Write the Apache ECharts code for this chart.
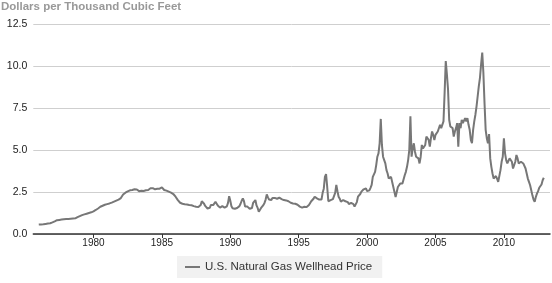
<!DOCTYPE html>
<html>
<head>
<meta charset="utf-8">
<script src="https://cdn.jsdelivr.net/npm/echarts@6/dist/echarts.min.js"></script>
<style>
html,body{margin:0;padding:0;background:#fff;}
#chart{width:552px;height:283px;}
</style>
</head>
<body>
<div id="chart"></div>
<script>
// Monthly U.S. natural gas wellhead price (Jan..Dec), dollars per thousand cubic feet
const price1970s = {
  1976: [0.56,0.56,0.57,0.57,0.58,0.59,0.60,0.61,0.62,0.63,0.64,0.66],
  1977: [0.69,0.72,0.75,0.79,0.82,0.83,0.84,0.85,0.86,0.87,0.88,0.89],
  1978: [0.89,0.90,0.90,0.91,0.91,0.92,0.92,0.93,0.93,0.96,1.00,1.03],
  1979: [1.06,1.09,1.12,1.14,1.17,1.19,1.21,1.23,1.25,1.27,1.29,1.32]
};
const price1980s = {
  1980: [1.35,1.39,1.43,1.47,1.52,1.57,1.62,1.65,1.68,1.71,1.74,1.76],
  1981: [1.78,1.80,1.82,1.84,1.87,1.90,1.93,1.96,1.99,2.02,2.05,2.08],
  1982: [2.14,2.25,2.35,2.42,2.46,2.50,2.54,2.58,2.60,2.62,2.62,2.64],
  1983: [2.66,2.68,2.65,2.58,2.55,2.52,2.58,2.62,2.56,2.64,2.60,2.66],
  1984: [2.62,2.68,2.72,2.70,2.73,2.68,2.66,2.64,2.69,2.65,2.70,2.72],
  1985: [2.78,2.70,2.62,2.60,2.58,2.54,2.52,2.48,2.46,2.42,2.38,2.30],
  1986: [2.22,2.12,2.02,1.94,1.86,1.82,1.80,1.79,1.77,1.76,1.76,1.75],
  1987: [1.73,1.72,1.71,1.70,1.66,1.64,1.62,1.59,1.60,1.63,1.72,1.95],
  1988: [2.02,1.80,1.67,1.58,1.52,1.49,1.56,1.73,1.68,1.72,1.78,1.92],
  1989: [1.95,1.70,1.62,1.57,1.62,1.66,1.60,1.57,1.58,1.65,1.85,2.25]
};
const price1990s = {
  1990: [1.98,1.65,1.53,1.52,1.50,1.50,1.55,1.60,1.66,1.80,1.98,2.12],
  1991: [1.95,1.63,1.60,1.63,1.57,1.50,1.39,1.55,1.85,1.95,2.02,1.70],
  1992: [1.55,1.33,1.42,1.55,1.63,1.72,1.85,2.05,2.36,2.18,2.05,2.00],
  1993: [2.02,2.15,2.22,2.15,2.12,2.10,2.14,2.16,2.12,2.08,2.05,2.02],
  1994: [2.04,2.00,2.00,1.95,1.90,1.86,1.83,1.82,1.80,1.80,1.76,1.74],
  1995: [1.70,1.63,1.58,1.57,1.59,1.62,1.57,1.60,1.63,1.72,1.83,1.95],
  1996: [2.02,2.10,2.22,2.15,2.12,2.15,2.05,2.10,2.05,2.45,2.70,3.40],
  1997: [3.57,2.80,1.95,1.98,2.02,2.05,2.08,2.15,2.45,2.92,2.55,2.22],
  1998: [2.10,1.92,2.00,2.02,2.00,1.95,1.98,1.90,1.78,1.73,1.85,1.90],
  1999: [1.78,1.63,1.70,1.90,2.22,2.28,2.38,2.52,2.55,2.66,2.55,2.72]
};
const price2000s = {
  2000: [2.55,2.52,2.60,2.75,2.92,3.40,3.55,3.70,4.10,4.60,4.80,5.40],
  2001: [6.85,5.30,4.60,4.40,4.20,3.80,3.60,3.30,3.20,3.40,3.10,2.80],
  2002: [2.50,2.20,2.50,2.80,2.90,3.00,2.95,3.00,3.10,3.50,3.70,4.00],
  2003: [4.40,5.00,7.00,4.60,5.10,5.40,4.90,4.60,4.55,4.50,4.20,4.60],
  2004: [5.30,5.10,5.00,5.30,5.80,5.70,5.60,5.20,5.70,6.10,5.90,5.60],
  2005: [5.90,6.00,6.10,6.20,6.50,6.30,6.40,6.70,8.40,10.30,9.50,8.60],
  2006: [6.80,6.40,6.30,6.30,5.80,6.10,6.30,6.60,5.20,6.60,6.30,6.80],
  2007: [6.60,6.50,6.90,6.70,6.90,6.50,6.20,5.60,5.40,6.20,6.70,7.10],
  2008: [7.60,8.20,8.80,9.30,10.10,10.80,9.60,7.80,6.20,5.70,5.40,5.95],
  2009: [4.50,4.00,3.60,3.30,3.35,3.45,3.30,3.10,3.00,3.80,4.30,4.60]
};
const price2010s = {
  2010: [5.70,4.80,4.40,4.20,4.30,4.50,4.40,4.30,3.90,4.00,4.30,4.70],
  2011: [4.50,4.20,4.10,4.30,4.30,4.20,4.10,3.90,3.60,3.30,3.10,2.90],
  2012: [2.60,2.30,2.05,1.92,2.20,2.40,2.55,2.75,2.85,2.95,3.20,3.35]
};
const yearTicks = [1980,1985,1990,1995,2000,2005,2010];
const seriesName = 'U.S. Natural Gas Wellhead Price';
const titleText = 'Dollars per Thousand Cubic Feet';

const allYears = Object.assign({}, price1970s, price1980s, price1990s, price2000s, price2010s);
const data = [];
Object.keys(allYears).map(Number).sort((a,b)=>a-b).forEach(y => {
  allYears[y].forEach((v, m) => data.push([y + m / 12, v]));
});

const FONT = "'Liberation Sans', Arial, Helvetica, sans-serif";
const chart = echarts.init(document.getElementById('chart'), null, {renderer:'canvas'});
chart.setOption({
  animation: false,
  textStyle: {fontFamily: FONT},
  title: {
    text: titleText, left: 1, top: 1, padding: 0,
    textStyle: {fontFamily: FONT, fontSize: 11.5, fontWeight: 'bold', color: '#999'}
  },
  grid: {left: 33.3, right: 2, top: 24, bottom: 49, containLabel: false},
  legend: {
    data: [seriesName],
    left: 177, top: 256,
    padding: [5, 10, 5, 8],
    backgroundColor: '#f1f1f1',
    borderWidth: 0,
    icon: 'rect', itemWidth: 15, itemHeight: 2, itemGap: 5,
    textStyle: {fontFamily: FONT, fontSize: 11.5, color: '#333', padding: [0,0,0,0]}
  },
  xAxis: {
    type: 'value',
    min: 1975.6, max: 2013.37,
    axisLine: {show: true, lineStyle: {color: '#333', width: 1.5}},
    axisTick: {show: true, customValues: yearTicks, length: 4, lineStyle: {color: '#333', width: 1}},
    axisLabel: {customValues: yearTicks, formatter: v => String(v), fontSize: 10, color: '#222', margin: 4, fontFamily: FONT},
    splitLine: {show: false}
  },
  yAxis: {
    type: 'value',
    min: 0, max: 12.5, interval: 2.5,
    axisLine: {show: false},
    axisTick: {show: false},
    axisLabel: {formatter: v => v.toFixed(1), fontSize: 10.5, color: '#222', margin: 6, fontFamily: FONT},
    splitLine: {show: true, lineStyle: {color: '#cfcfcf', width: 1}}
  },
  series: [{
    name: seriesName,
    type: 'line',
    data: data,
    showSymbol: false,
    symbol: 'none',
    lineStyle: {color: '#777', width: 2},
    itemStyle: {color: '#777'},
    z: 3
  }]
});
</script>
</body>
</html>
